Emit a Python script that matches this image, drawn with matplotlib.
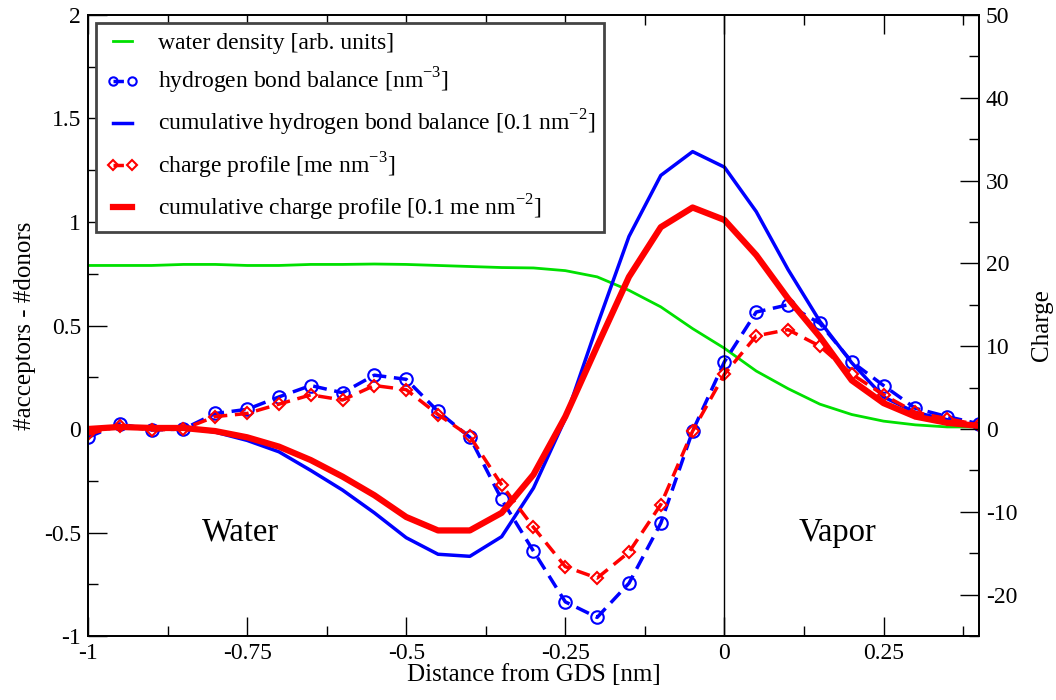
import numpy as np
import matplotlib
matplotlib.use("Agg")
import matplotlib.pyplot as plt
from matplotlib.ticker import MultipleLocator, FixedLocator
from matplotlib.lines import Line2D

plt.rcParams['font.family'] = ['Liberation Serif', 'DejaVu Serif']
plt.rcParams['mathtext.fontset'] = 'custom'
plt.rcParams['mathtext.rm'] = 'Liberation Serif'
plt.rcParams['axes.unicode_minus'] = False

x = [-1.0, -0.95, -0.9, -0.85, -0.8, -0.75, -0.7, -0.65, -0.6, -0.55, -0.5, -0.45,
     -0.4, -0.35, -0.3, -0.25, -0.2, -0.15, -0.1, -0.05, 0.0, 0.05, 0.1, 0.15,
     0.2, 0.25, 0.3, 0.35, 0.4]

water_density = [0.79, 0.79, 0.79, 0.795, 0.795, 0.79, 0.79, 0.795, 0.795, 0.797, 0.795,
                 0.79, 0.785, 0.78, 0.778, 0.765, 0.735, 0.67, 0.59, 0.485, 0.39, 0.28,
                 0.195, 0.12, 0.07, 0.038, 0.02, 0.01, 0.01]

hb_balance = [-0.04, 0.025, -0.005, 0.0, 0.075, 0.095, 0.155, 0.21, 0.175, 0.26, 0.24,
              0.085, -0.04, -0.34, -0.59, -0.835, -0.91, -0.745, -0.455, -0.01, 0.325,
              0.565, 0.6, 0.51, 0.325, 0.21, 0.1, 0.06, 0.025]

cum_hb_balance = [0.0, 0.01, 0.005, 0.005, -0.015, -0.055, -0.11, -0.2, -0.295, -0.405,
                  -0.525, -0.605, -0.615, -0.52, -0.285, 0.05, 0.5, 0.93, 1.225, 1.34,
                  1.265, 1.05, 0.77, 0.52, 0.32, 0.155, 0.08, 0.045, 0.01]

charge_profile = [-0.025, 0.015, -0.005, 0.0, 0.06, 0.075, 0.12, 0.165, 0.14, 0.21, 0.19,
                  0.07, -0.035, -0.27, -0.475, -0.665, -0.72, -0.595, -0.365, -0.01, 0.265,
                  0.45, 0.48, 0.4, 0.265, 0.165, 0.08, 0.05, 0.02]

cum_charge = [0.0, 0.01, 0.005, 0.005, -0.01, -0.04, -0.085, -0.15, -0.23, -0.32, -0.425,
              -0.49, -0.49, -0.405, -0.22, 0.06, 0.40, 0.735, 0.975, 1.07, 1.01, 0.84,
              0.63, 0.445, 0.235, 0.125, 0.06, 0.03, 0.015]

labels = ["water density [arb. units]",
          "hydrogen bond balance [nm$^{-3}$]",
          "cumulative hydrogen bond balance [0.1 nm$^{-2}$]",
          "charge profile [me nm$^{-3}$]",
          "cumulative charge profile [0.1 me nm$^{-2}$]"]

fig = plt.figure(figsize=(10.56, 7.0), dpi=100)
ax = fig.add_axes([0.0833, 0.0914, 0.8438, 0.8872])

green = '#00e000'
blue = '#0000ff'
red = '#ff0000'
dash = (0, (4, 2.2))

ax.plot(x, water_density, color=green, lw=2)
ax.plot(x, hb_balance, color=blue, lw=2.5, ls=dash, marker='o', ms=9,
        mfc='none', mec=blue, mew=1.5)
ax.plot(x, cum_hb_balance, color=blue, lw=2.5)
ax.plot(x, charge_profile, color=red, lw=2.5, ls=dash, marker='D', ms=6.5,
        mfc='none', mec=red, mew=1.5)
ax.plot(x, cum_charge, color=red, lw=4.5)

ax.axvline(0, color='black', lw=1)

ax.set_xlim(-1, 0.4)
ax.set_ylim(-1, 2)
ax.xaxis.set_major_locator(FixedLocator([-1, -0.75, -0.5, -0.25, 0, 0.25]))
ax.xaxis.set_minor_locator(MultipleLocator(0.125))
ax.yaxis.set_minor_locator(MultipleLocator(0.25))
ax.set_xticklabels(['-1', '-0.75', '-0.5', '-0.25', '0', '0.25'])
ax.set_yticks([-1, -0.5, 0, 0.5, 1, 1.5, 2])
ax.set_yticklabels(['-1', '-0.5', '0', '0.5', '1', '1.5', '2'])
ax.tick_params(which='both', direction='in', top=True, labelsize=17)
ax.tick_params(which='major', length=13.5, width=1)
ax.tick_params(which='minor', length=7, width=1)
ax.tick_params(axis='x', pad=5)
ax.tick_params(axis='y', pad=5)
ax.set_xlabel("Distance from GDS [nm]", fontsize=18, labelpad=0)
ax.set_ylabel("#acceptors - #donors", fontsize=18, labelpad=6)

ax2 = ax.twinx()
ax2.set_ylim(-25, 50)
ax2.yaxis.set_major_locator(MultipleLocator(10))
ax2.yaxis.set_minor_locator(MultipleLocator(5))
ax2.tick_params(which='both', direction='in', labelsize=17, pad=5)
ax2.tick_params(which='major', length=13.5, width=1)
ax2.tick_params(which='minor', length=7, width=1)
ax2.set_ylabel("Charge", fontsize=18, labelpad=10)

for a in (ax, ax2):
    for s in a.spines.values():
        s.set_linewidth(1.3)

ax.text(-0.76, -0.5, "Water", fontsize=23.5, ha='center', va='center')
ax.text(0.178, -0.5, "Vapor", fontsize=23.5, ha='center', va='center')

handles = [
    Line2D([], [], color=green, lw=2),
    Line2D([], [], color=blue, lw=2.5, ls=(0, (3, 2.5)), marker='o', ms=6,
           mfc='none', mec=blue, mew=1.5),
    Line2D([], [], color=blue, lw=2.5),
    Line2D([], [], color=red, lw=2.5, ls=(0, (3, 2.5)), marker='D', ms=5,
           mfc='none', mec=red, mew=1.5),
    Line2D([], [], color=red, lw=4.5),
]
leg = ax2.legend(handles, labels, loc='upper left', bbox_to_anchor=(0.0, 1.0),
                 fontsize=17, numpoints=2, handlelength=1.4, frameon=True,
                 fancybox=False, edgecolor='#444444', framealpha=1, borderpad=0.4,
                 labelspacing=0.5, handletextpad=0.8, borderaxespad=0.35)
leg.get_frame().set_linewidth(2)

fig.savefig("out.png", dpi=100)
